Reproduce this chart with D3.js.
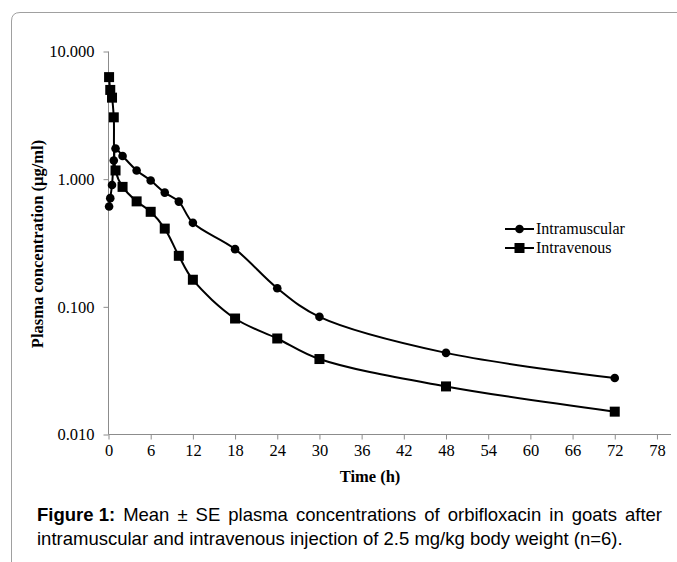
<!DOCTYPE html>
<html>
<head>
<meta charset="utf-8">
<script src="https://cdn.jsdelivr.net/npm/d3@7"></script>
<style>
  body { margin: 0; background: #fff; }
  svg { display: block; }
</style>
</head>
<body>
<svg width="677" height="562"></svg>
<script>
// sampling times (h) and mean concentrations (µg/ml)
var times = [0.083, 0.25, 0.5, 0.75, 1, 2, 4, 6, 8, 10, 12, 18, 24, 30, 48, 72]
var imValues = [0.61, 0.71, 0.90, 1.40, 1.74, 1.52, 1.17, 0.975, 0.785, 0.667, 0.455, 0.283, 0.140, 0.0835, 0.0436, 0.0277]
var ivValues = [6.3, 5.0, 4.35, 3.05, 1.17, 0.87, 0.67, 0.555, 0.41, 0.251, 0.163, 0.081, 0.0565, 0.039, 0.0238, 0.0151]
var seriesNames = ['Intramuscular', 'Intravenous']
var xTicks = [0, 6, 12, 18, 24, 30, 36, 42, 48, 54, 60, 66, 72, 78]
var yTicks = [0.01, 0.1, 1, 10]
var captionBold = 'Figure 1:'
var captionLine1 = 'Mean ± SE plasma concentrations of orbifloxacin in goats after'
var captionLine2 = 'intramuscular and intravenous injection of 2.5 mg/kg body weight (n=6).'

var svg = d3.select('svg')
var serif = 'Liberation Serif, Times New Roman, serif'
var axisGray = '#8c8c8c'
var fs = 16.5

// outer frame, rounded at top-left
svg.append('path')
  .attr('d', 'M11.5,562 L11.5,21 Q11.5,12.5 20,12.5 L677,12.5')
  .attr('fill', 'none')
  .attr('stroke', '#a0a0a0')
  .attr('stroke-width', 1)

var x = d3.scaleLinear().domain([0, 80]).range([108.5, 671])
var y = d3.scaleLog().domain([0.01, 10]).range([434.5, 51.5])

var xAxis = svg.append('g')
  .attr('transform', 'translate(0,' + y(0.01) + ')')
  .call(d3.axisBottom(x).tickValues(xTicks).tickSize(5).tickPadding(5).tickFormat(d3.format('d')))
var yAxis = svg.append('g')
  .attr('transform', 'translate(' + x(0) + ',0)')
  .call(d3.axisLeft(y).tickValues(yTicks).tickSize(5).tickPadding(9).tickFormat(d3.format('.3f')))

;[xAxis, yAxis].forEach(function (g) {
  g.select('.domain').attr('stroke', axisGray)
  g.selectAll('.tick line').attr('stroke', axisGray)
  g.selectAll('text').attr('font-family', serif).attr('font-size', fs).attr('fill', '#000')
})
// plain axis lines without the end caps
xAxis.select('.domain').attr('d', 'M' + x(0) + ',0H' + x(80))
yAxis.select('.domain').attr('d', 'M0,' + y(10) + 'V' + y(0.01))

// axis titles
svg.append('text')
  .attr('x', 370).attr('y', 482)
  .attr('text-anchor', 'middle')
  .attr('font-family', serif).attr('font-size', fs).attr('font-weight', 'bold')
  .text('Time (h)')
svg.append('text')
  .attr('transform', 'translate(43,' + 244 + ') rotate(-90)')
  .attr('text-anchor', 'middle')
  .attr('font-family', serif).attr('font-size', fs).attr('font-weight', 'bold')
  .text('Plasma concentration (µg/ml)')

var line = d3.line()
  .x(function (d) { return x(d[0]) })
  .y(function (d) { return y(d[1]) })
  .curve(d3.curveCatmullRom)

var imData = times.map(function (t, i) { return [t, imValues[i]] })
var ivData = times.map(function (t, i) { return [t, ivValues[i]] })

svg.append('path').datum(imData).attr('d', line)
  .attr('fill', 'none').attr('stroke', '#000').attr('stroke-width', 2)
svg.append('path').datum(ivData).attr('d', line)
  .attr('fill', 'none').attr('stroke', '#000').attr('stroke-width', 2)

svg.append('g').selectAll('circle')
  .data(imData)
  .enter()
  .append('circle')
  .attr('cx', function (d) { return x(d[0]) })
  .attr('cy', function (d) { return y(d[1]) })
  .attr('r', 4.3)
  .attr('fill', '#000')

var sq = 10
svg.append('g').selectAll('rect')
  .data(ivData)
  .enter()
  .append('rect')
  .attr('x', function (d) { return x(d[0]) - sq / 2 })
  .attr('y', function (d) { return y(d[1]) - sq / 2 })
  .attr('width', sq).attr('height', sq)
  .attr('fill', '#000')

// legend
var legend = svg.append('g').attr('transform', 'translate(505,229)')
seriesNames.forEach(function (name, i) {
  var row = legend.append('g').attr('transform', 'translate(0,' + (i * 19) + ')')
  row.append('line').attr('x1', 0).attr('x2', 29).attr('stroke', '#000').attr('stroke-width', 2)
  if (i === 0) {
    row.append('circle').attr('cx', 14.5).attr('r', 4.3).attr('fill', '#000')
  } else {
    row.append('rect').attr('x', 14.5 - sq / 2).attr('y', -sq / 2).attr('width', sq).attr('height', sq).attr('fill', '#000')
  }
  row.append('text').attr('x', 31).attr('dy', '0.33em')
    .attr('font-family', serif).attr('font-size', 16).text(name)
})

// caption, first line justified
var sans = 'Liberation Sans, Arial, sans-serif'
var capFs = 18.5
var capLeft = 37
var capRight = 662
var words = [captionBold].concat(captionLine1.split(' '))
var tmp = svg.append('g').attr('font-family', sans).attr('font-size', capFs)
var widths = words.map(function (w, i) {
  var t = tmp.append('text').attr('font-weight', i === 0 ? 'bold' : null).text(w)
  var wd = t.node().getComputedTextLength()
  t.remove()
  return wd
})
tmp.remove()
var gap = (capRight - capLeft - d3.sum(widths)) / (words.length - 1)
var cx = capLeft
var cap = svg.append('g').attr('font-family', sans).attr('font-size', capFs).attr('fill', '#000')
words.forEach(function (w, i) {
  cap.append('text').attr('x', cx).attr('y', 521)
    .attr('font-weight', i === 0 ? 'bold' : null).text(w)
  cx += widths[i] + gap
})
cap.append('text').attr('x', capLeft).attr('y', 545).text(captionLine2)
</script>
</body>
</html>
